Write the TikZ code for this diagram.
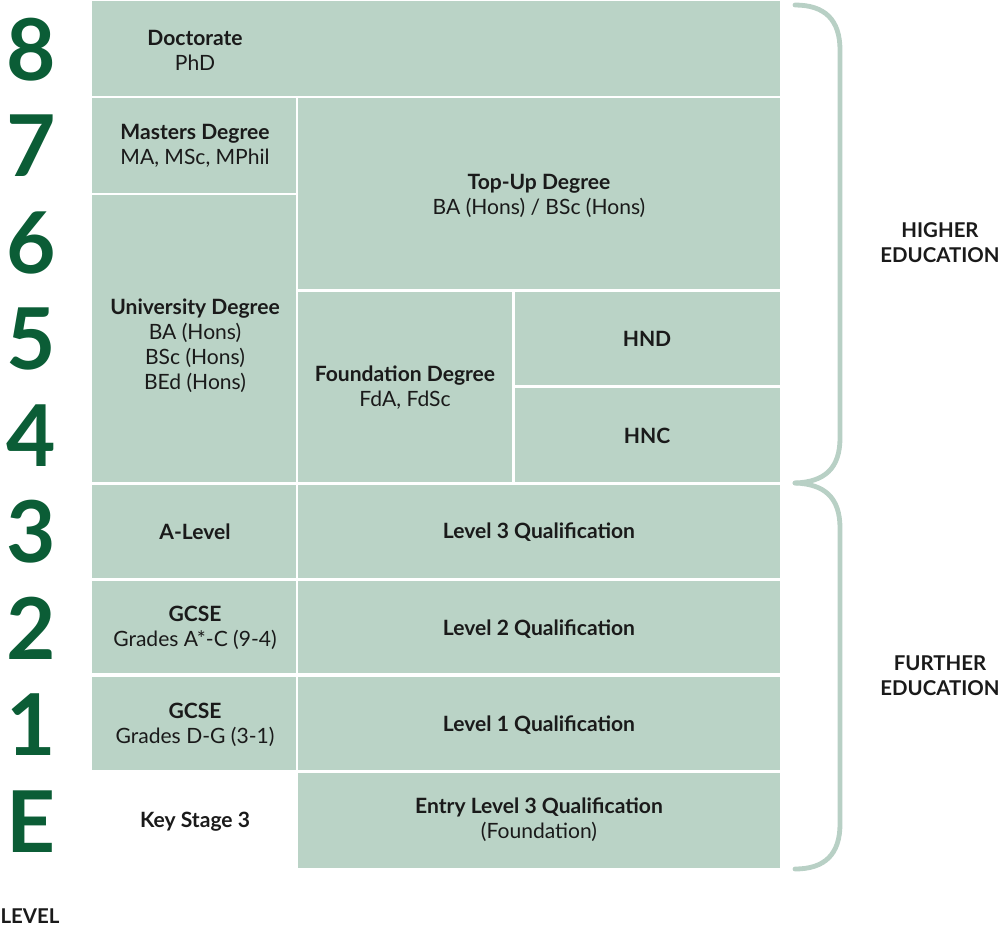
\documentclass[tikz,border=0pt]{standalone}
\usepackage{fontspec}
\setmainfont{Lato}
\definecolor{cellfill}{HTML}{BAD3C6}
\definecolor{bracecol}{HTML}{B8D0C5}
\definecolor{levelgreen}{HTML}{0B5D36}
\definecolor{txt}{HTML}{1A1A1A}
\begin{document}
\begin{tikzpicture}[x=0.75pt,y=-0.75pt,
  cellbox/.style 2 args={fill=cellfill,draw=none,inner sep=0pt,outer sep=0pt,
    minimum width=#1*0.75pt,minimum height=#2*0.75pt,anchor=north west},
  lab/.style={text=txt,align=center,font=\fontsize{15.8}{18.75}\selectfont,inner sep=0pt},
  blab/.style={lab,font=\fontsize{15.8}{18.75}\selectfont\bfseries},
  digit/.style={text=levelgreen,font=\fontsize{64}{64}\selectfont\bfseries,inner sep=0pt},
  side/.style={text=txt,align=center,font=\fontsize{15.3}{18.75}\selectfont\bfseries,inner sep=0pt},
  brace/.style={draw=bracecol,line width=3.6pt,line cap=round}]
\useasboundingbox (0,0) rectangle (1000,926);
% cells
\node[cellbox={688}{95}] (c8) at (92,1) {};
\node[cellbox={204}{95}] (c7) at (92,98) {};
\node[cellbox={204}{287}] (cuni) at (92,195) {};
\node[cellbox={482}{191}] (ctop) at (298,98) {};
\node[cellbox={214}{190}] (cfound) at (298,292) {};
\node[cellbox={265}{93}] (chnd) at (515,292) {};
\node[cellbox={265}{94}] (chnc) at (515,388) {};
\node[cellbox={204}{93}] (calev) at (92,485) {};
\node[cellbox={482}{93}] (cl3) at (298,485) {};
\node[cellbox={204}{92}] (cg2) at (92,581) {};
\node[cellbox={482}{92}] (cl2) at (298,581) {};
\node[cellbox={204}{93}] (cg1) at (92,677) {};
\node[cellbox={482}{93}] (cl1) at (298,677) {};
\node[cellbox={482}{95}] (centry) at (298,773) {};
% texts
\node[lab] (tdoc) at (195,50) {\textbf{Doctorate}\\PhD};
\node[lab] (tmas) at (195,146) {\textbf{Masters Degree}\\MA, MSc, MPhil};
\node[lab] (ttop) at (539,196) {\textbf{Top-Up Degree}\\BA (Hons) / BSc (Hons)};
\node[lab] (tuni) at (195,346) {\textbf{University Degree}\\BA (Hons)\\BSc (Hons)\\BEd (Hons)};
\node[lab] (tfound) at (405,388) {\textbf{Foundation Degree}\\FdA, FdSc};
\node[blab] (thnd) at (647,339) {HND};
\node[blab] (thnc) at (647,436) {HNC};
\node[blab] (talev) at (195,532) {A-Level};
\node[blab] (tl3) at (539,532) {Level 3 Qualification};
\node[lab] (tg2) at (195,628) {\textbf{GCSE}\\Grades A*-C (9-4)};
\node[blab] (tl2) at (539,629) {Level 2 Qualification};
\node[lab] (tg1) at (195,725) {\textbf{GCSE}\\Grades D-G (3-1)};
\node[blab] (tl1) at (539,725) {Level 1 Qualification};
\node[lab] (tentry) at (539,820) {\textbf{Entry Level 3 Qualification}\\(Foundation)};
\node[blab] (tks3) at (195,822) {Key Stage 3};
% level digits
\node[digit] (d8) at (31,50) {8};
\node[digit] (d7) at (31,146) {7};
\node[digit] (d6) at (31,243) {6};
\node[digit] (d5) at (31,339) {5};
\node[digit] (d4) at (31,436) {4};
\node[digit] (d3) at (31,532) {3};
\node[digit] (d2) at (31,628) {2};
\node[digit] (d1) at (31,725) {1};
\node[digit] (dE) at (31,822) {E};
\node[side] (tlevel) at (30,916) {LEVEL};
% braces
\coordinate (bt) at (795,5);
\coordinate (bm) at (795,483);
\coordinate (bb) at (795,869);
\draw[brace] (bt) .. controls (825,5) and (840,20) .. (840,50) -- (840,438)
  .. controls (840,468) and (825,482) .. (bm);
\draw[brace] (bm) .. controls (825,484) and (840,498) .. (840,528) -- (840,824)
  .. controls (840,854) and (825,869) .. (bb);
\node[side] (the) at (940,243) {HIGHER\\EDUCATION};
\node[side] (tfe) at (940,676) {FURTHER\\EDUCATION};
\end{tikzpicture}
\end{document}
